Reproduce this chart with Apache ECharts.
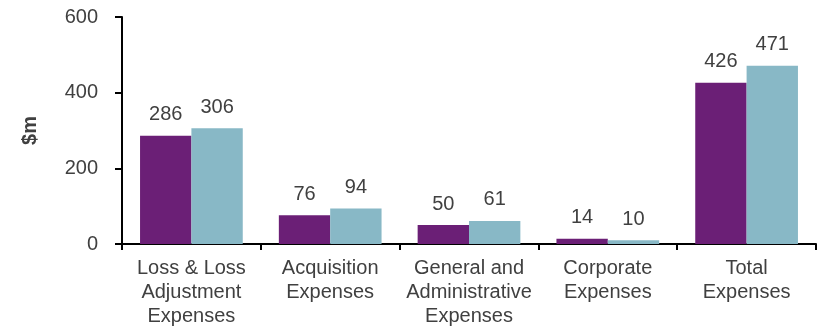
<!DOCTYPE html>
<html>
<head>
<meta charset="utf-8">
<script src="https://cdn.jsdelivr.net/npm/echarts@6/dist/echarts.min.js"></script>
<style>
  html, body { margin: 0; padding: 0; background: #fff; }
  #chart { width: 819px; height: 329px; }
</style>
</head>
<body>
<div id="chart"></div>
<script>
// Expense categories and the two periods' totals ($m)
const categories = [
  'Loss & Loss\nAdjustment\nExpenses',
  'Acquisition\nExpenses',
  'General and\nAdministrative\nExpenses',
  'Corporate\nExpenses',
  'Total\nExpenses'
];
const seriesA = [286, 76, 50, 14, 426];
const seriesB = [306, 94, 61, 10, 471];
const yTicks = { min: 0, max: 600, interval: 200 };

const FONT = '"Liberation Sans", Arial, sans-serif';
const TEXT = '#404040';

const chart = echarts.init(document.getElementById('chart'), null, { renderer: 'canvas' });

const labelStyle = {
  show: true,
  position: 'top',
  distance: 11,
  color: TEXT,
  fontFamily: FONT,
  fontSize: 20
};

chart.setOption({
  animation: false,
  grid: { left: 122, right: 3, top: 17, bottom: 85 },
  xAxis: {
    type: 'category',
    data: categories,
    axisLine: { lineStyle: { color: '#000', width: 2 } },
    axisTick: { show: true, length: 6, lineStyle: { color: '#000', width: 2 } },
    axisLabel: {
      color: TEXT,
      fontFamily: FONT,
      fontSize: 20,
      lineHeight: 24,
      margin: 12,
      interval: 0
    }
  },
  yAxis: {
    type: 'value',
    min: yTicks.min,
    max: yTicks.max,
    interval: yTicks.interval,
    name: '$m',
    nameLocation: 'middle',
    nameGap: 82,
    nameRotate: 90,
    nameTextStyle: { color: TEXT, fontFamily: FONT, fontSize: 20, fontWeight: 'bold' },
    axisLine: { show: true, lineStyle: { color: '#000', width: 2 } },
    axisTick: { show: true, length: 7, lineStyle: { color: '#000', width: 2 } },
    splitLine: { show: false },
    axisLabel: { color: TEXT, fontFamily: FONT, fontSize: 20, margin: 24 }
  },
  series: [
    {
      type: 'bar',
      data: seriesA,
      itemStyle: { color: '#6B1F76' },
      barGap: '0%',
      barCategoryGap: '26%',
      label: labelStyle
    },
    {
      type: 'bar',
      data: seriesB,
      itemStyle: { color: '#88B8C6' },
      label: labelStyle
    }
  ]
});
</script>
</body>
</html>
